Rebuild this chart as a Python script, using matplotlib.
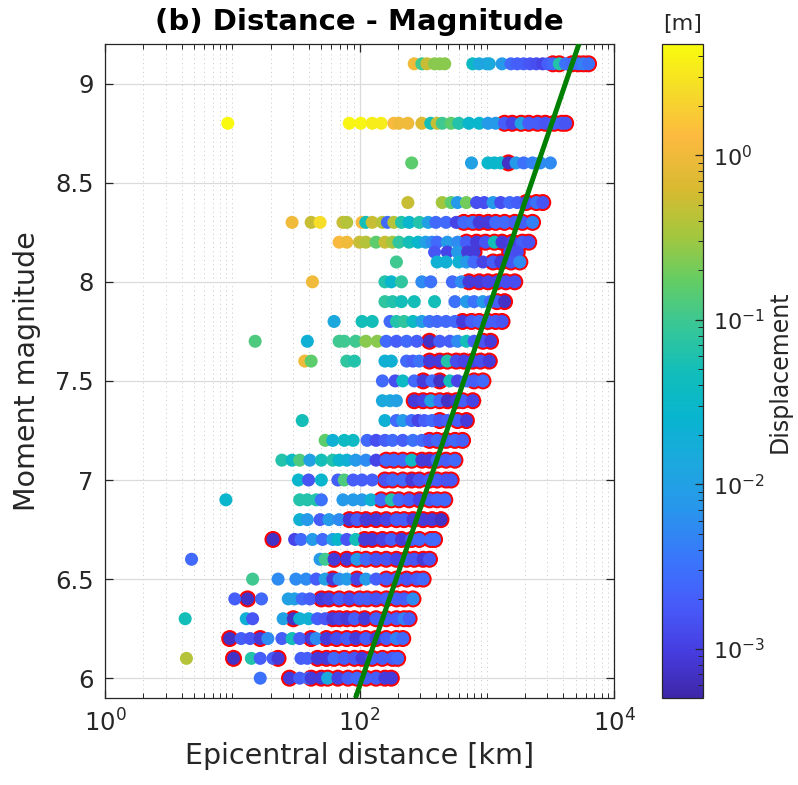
import numpy as np
import matplotlib
matplotlib.use('Agg')
import matplotlib.pyplot as plt
from matplotlib.colors import LinearSegmentedColormap, LogNorm
from matplotlib.ticker import FixedLocator, NullFormatter, LogFormatterMathtext

# magnitude rows (one scatter row per event magnitude)
mags = [9.1, 8.8, 8.6, 8.4, 8.3, 8.2, 8.15, 8.1, 8.0, 7.9, 7.8, 7.7, 7.6, 7.5, 7.4,
        7.3, 7.2, 7.1, 7.0, 6.9, 6.8, 6.7, 6.6, 6.5, 6.4, 6.3, 6.2, 6.1, 6.0]

# epicentral distance of each station, log10(km)
log_dist = [
    [2.43, 2.49, 2.53, 2.59, 2.63, 2.67, 2.89, 2.94, 3.00, 3.02, 3.12, 3.19, 3.24, 3.29, 3.34, 3.39, 3.44, 3.48, 3.52, 3.57, 3.62, 3.67, 3.72, 3.76, 3.80],
    [0.965, 1.92, 2.01, 2.10, 2.17, 2.27, 2.31, 2.38, 2.49, 2.56, 2.61, 2.65, 2.72, 2.78, 2.86, 2.94, 3.01, 3.07, 3.14, 3.20, 3.27, 3.33, 3.40, 3.46, 3.53, 3.59, 3.62],
    [2.41, 2.88, 3.01, 3.06, 3.11, 3.17, 3.23, 3.29, 3.36, 3.42, 3.50],
    [2.38, 2.65, 2.72, 2.77, 2.84, 2.92, 2.98, 3.05, 3.11, 3.18, 3.24, 3.31, 3.39, 3.44],
    [1.47, 1.62, 1.69, 1.87, 1.90, 2.02, 2.05, 2.10, 2.18, 2.22, 2.27, 2.33, 2.39, 2.47, 2.54, 2.60, 2.68, 2.76, 2.82, 2.89, 2.94, 3.01, 3.07, 3.14, 3.22, 3.28, 3.36],
    [1.84, 1.90, 2.00, 2.05, 2.13, 2.20, 2.26, 2.31, 2.39, 2.46, 2.52, 2.57, 2.61, 2.69, 2.77, 2.84, 2.92, 2.99, 3.06, 3.12, 3.20, 3.28, 3.33],
    [2.59, 2.69, 2.77, 2.85, 2.90, 3.18, 3.24],
    [2.29, 2.61, 2.68, 2.78, 2.84, 2.90, 2.97, 3.05, 3.11, 3.19, 3.26],
    [1.63, 2.20, 2.25, 2.33, 2.49, 2.56, 2.73, 2.80, 2.86, 2.94, 3.01, 3.08, 3.15, 3.22],
    [2.20, 2.26, 2.33, 2.43, 2.59, 2.75, 2.84, 2.90, 2.97, 3.03, 3.08, 3.14],
    [1.80, 2.02, 2.10, 2.24, 2.29, 2.35, 2.42, 2.49, 2.55, 2.61, 2.68, 2.75, 2.81, 2.88, 2.94, 3.01, 3.07, 3.12],
    [1.18, 1.59, 1.84, 1.88, 1.97, 2.05, 2.14, 2.21, 2.29, 2.37, 2.45, 2.55, 2.63, 2.71, 2.77, 2.84, 2.90, 2.97, 3.03],
    [1.57, 1.62, 1.90, 1.96, 2.20, 2.25, 2.37, 2.42, 2.47, 2.55, 2.63, 2.69, 2.76, 2.82, 2.89, 2.95, 3.02],
    [2.18, 2.28, 2.34, 2.43, 2.50, 2.57, 2.63, 2.71, 2.77, 2.84, 2.90, 2.97],
    [2.18, 2.24, 2.29, 2.43, 2.50, 2.56, 2.63, 2.69, 2.76, 2.81, 2.89],
    [1.55, 2.20, 2.29, 2.34, 2.41, 2.46, 2.51, 2.57, 2.63, 2.69, 2.77, 2.84],
    [1.73, 1.79, 1.88, 1.95, 2.06, 2.13, 2.20, 2.26, 2.34, 2.42, 2.49, 2.55, 2.61, 2.68, 2.75, 2.81],
    [1.39, 1.47, 1.53, 1.61, 1.70, 1.79, 1.84, 1.90, 1.97, 2.05, 2.13, 2.21, 2.27, 2.34, 2.41, 2.49, 2.55, 2.61, 2.68, 2.75],
    [1.52, 1.60, 1.70, 1.83, 1.88, 1.95, 2.02, 2.10, 2.20, 2.26, 2.34, 2.41, 2.47, 2.55, 2.61, 2.68, 2.72],
    [0.95, 1.53, 1.59, 1.66, 1.70, 1.87, 1.95, 2.02, 2.09, 2.17, 2.25, 2.31, 2.39, 2.47, 2.55, 2.61, 2.67],
    [1.53, 1.59, 1.69, 1.76, 1.84, 1.92, 1.98, 2.05, 2.13, 2.21, 2.29, 2.35, 2.42, 2.50, 2.57, 2.64],
    [1.32, 1.49, 1.54, 1.63, 1.71, 1.79, 1.83, 1.90, 1.97, 2.04, 2.10, 2.18, 2.25, 2.33, 2.41, 2.47, 2.56, 2.59],
    [0.68, 1.69, 1.73, 1.80, 1.90, 1.98, 2.05, 2.13, 2.21, 2.29, 2.37, 2.43, 2.50, 2.55],
    [1.16, 1.36, 1.50, 1.58, 1.66, 1.73, 1.79, 1.84, 1.90, 1.98, 2.05, 2.13, 2.21, 2.29, 2.37, 2.45, 2.50],
    [1.02, 1.12, 1.23, 1.44, 1.49, 1.55, 1.61, 1.70, 1.76, 1.84, 1.92, 2.00, 2.06, 2.13, 2.21, 2.29, 2.35, 2.42],
    [0.63, 1.11, 1.16, 1.40, 1.48, 1.53, 1.60, 1.67, 1.73, 1.79, 1.84, 1.90, 1.96, 2.04, 2.13, 2.21, 2.29, 2.35, 2.39],
    [0.98, 1.07, 1.14, 1.22, 1.28, 1.39, 1.47, 1.53, 1.62, 1.66, 1.74, 1.82, 1.90, 1.97, 2.05, 2.13, 2.21, 2.29, 2.34],
    [0.64, 1.01, 1.15, 1.22, 1.32, 1.36, 1.54, 1.59, 1.67, 1.74, 1.80, 1.88, 1.96, 2.02, 2.10, 2.18, 2.26, 2.30],
    [1.22, 1.45, 1.53, 1.60, 1.62, 1.70, 1.75, 1.83, 1.91, 1.98, 2.05, 2.13, 2.20, 2.25],
]

# peak displacement at each station, log10(m)
log_disp = [
    [0.0, -1.0, -0.3, -0.6, -0.6, -0.6, -1.45, -1.85, -2.0, -1.85, -2.1, -2.6, -2.7, -2.7, -2.8, -2.85, -2.95, -2.7, -2.6, -1.2, -2.5, -2.6, -2.5, -2.35, -2.5],
    [0.65, 0.6, 0.6, 0.55, 0.55, 0.1, 0.0, 0.0, -0.15, -1.3, -0.3, -1.0, -0.8, -1.2, -1.55, -1.55, -2.1, -2.1, -2.7, -2.95, -2.0, -2.7, -2.7, -2.8, -2.7, -2.7, -2.8],
    [-0.8, -2.0, -1.55, -1.55, -1.55, -3.15, -2.1, -2.5, -2.35, -2.25, -2.25],
    [-0.3, -0.5, -0.8, -2.1, -0.7, -2.85, -2.85, -2.1, -2.85, -2.6, -2.7, -2.85, -2.5, -2.8],
    [0.0, -0.3, 0.4, -0.3, -0.4, 0.1, -1.3, -0.3, -0.4, -2.6, -0.4, -1.2, -1.55, -1.2, -2.0, -2.6, -2.6, -2.95, -2.6, -2.5, -3.05, -3.05, -2.6, -2.6, -2.7, -2.7, -2.35],
    [0.1, 0.0, -0.3, -0.4, -0.8, -0.3, -0.5, -1.1, -1.3, -1.55, -2.0, -2.25, -2.6, -2.1, -2.25, -2.7, -3.05, -2.8, -1.3, -3.05, -2.95, -2.7, -2.8],
    [-2.8, -2.95, -2.1, -3.05, -3.05, -2.85, -2.85],
    [-1.0, -1.7, -1.7, -1.7, -2.1, -2.6, -2.95, -2.7, -3.05, -2.8, -2.25],
    [0.0, -1.2, -1.55, -1.1, -2.25, -2.5, -2.6, -2.25, -3.05, -3.05, -2.95, -2.95, -2.85, -2.85],
    [-1.1, -1.2, -1.3, -1.3, -1.3, -2.5, -2.1, -2.5, -2.1, -2.6, -2.7, -3.15],
    [-1.85, -1.3, -1.3, -2.6, -1.2, -1.1, -1.45, -2.0, -2.5, -2.6, -2.6, -2.6, -3.05, -2.7, -2.6, -2.7, -2.7, -2.8],
    [-0.9, -1.7, -1.0, -1.0, -1.0, -0.6, -0.6, -2.6, -2.7, -2.6, -2.7, -3.15, -2.7, -2.7, -2.25, -1.3, -2.7, -2.8, -3.05],
    [0.0, -0.8, -1.1, -1.2, -1.7, -1.7, -2.6, -2.7, -2.5, -3.05, -3.05, -1.2, -2.85, -2.95, -2.95, -2.85, -3.05],
    [-2.6, -2.85, -1.45, -2.6, -3.05, -2.6, -3.15, -1.3, -2.95, -2.6, -2.7, -2.6],
    [-1.85, -1.85, -2.0, -3.05, -2.95, -2.0, -2.6, -3.15, -3.05, -2.7, -2.95],
    [-1.3, -1.7, -2.6, -2.1, -2.6, -2.95, -2.7, -2.6, -2.8, -2.7, -2.7, -3.05],
    [-0.8, -1.7, -1.45, -1.45, -2.6, -2.85, -2.7, -2.6, -2.7, -2.5, -2.6, -2.8, -2.6, -2.7, -2.6, -2.7],
    [-1.2, -1.45, -0.9, -2.0, -1.3, -1.2, -1.55, -1.7, -2.1, -2.25, -2.95, -2.6, -2.6, -2.6, -1.45, -3.05, -3.05, -2.6, -2.7, -2.6],
    [-1.55, -2.8, -1.55, -2.7, -0.9, -2.7, -2.7, -2.7, -2.8, -2.6, -2.6, -3.05, -2.8, -2.7, -2.7, -2.8, -2.8],
    [-1.55, -1.2, -1.2, -1.2, -2.5, -2.1, -2.1, -2.1, -1.7, -2.6, -1.2, -2.6, -2.7, -2.95, -2.7, -2.6, -2.6],
    [-1.7, -2.1, -2.7, -2.1, -2.25, -3.05, -2.7, -3.05, -3.05, -2.95, -2.7, -2.7, -3.05, -3.05, -3.05, -3.15],
    [-3.15, -2.95, -2.6, -2.1, -2.6, -2.0, -1.55, -2.8, -1.3, -3.05, -3.05, -2.95, -2.7, -3.05, -2.7, -2.6, -2.6, -2.6],
    [-2.6, -2.1, -1.0, -3.05, -3.05, -2.1, -2.6, -2.8, -2.8, -2.95, -2.7, -2.8, -3.05, -2.8],
    [-1.0, -2.25, -2.25, -2.25, -2.7, -2.0, -3.05, -2.25, -2.1, -2.95, -2.1, -2.7, -2.7, -2.7, -2.8, -2.7, -2.6],
    [-2.7, -3.15, -2.6, -2.0, -2.0, -2.6, -2.7, -3.05, -2.95, -2.7, -2.85, -2.7, -2.7, -2.8, -2.7, -2.7, -2.7, -2.25],
    [-1.3, -1.7, -2.8, -2.0, -3.15, -1.7, -1.7, -2.7, -2.8, -3.05, -2.95, -3.05, -2.7, -3.05, -2.7, -2.7, -2.7, -2.35, -2.7],
    [-3.15, -2.7, -2.8, -3.05, -2.25, -2.7, -1.3, -2.7, -3.05, -2.25, -3.05, -2.85, -2.7, -3.05, -2.7, -3.05, -2.7, -2.35, -2.6],
    [-0.4, -3.15, -1.2, -2.7, -2.7, -3.05, -2.7, -2.7, -3.05, -3.05, -2.6, -2.7, -2.8, -3.05, -2.7, -2.7, -2.7, -2.6],
    [-2.5, -3.05, -2.7, -2.6, -3.05, -3.05, -1.85, -2.95, -2.7, -2.6, -2.7, -2.7, -3.05, -3.05],
]

# stations flagged with a red ring, log10(km)
red_dist = [
    [3.52, 3.57, 3.67, 3.72, 3.76, 3.80],
    [3.14, 3.20, 3.27, 3.33, 3.40, 3.46, 3.53, 3.59, 3.62],
    [3.17],
    [3.31, 3.39, 3.44],
    [2.82, 2.89, 2.94, 3.01, 3.07, 3.14, 3.22, 3.28, 3.36],
    [2.84, 2.92, 2.99, 3.06, 3.12, 3.20, 3.28, 3.33],
    [2.85, 2.90, 3.18, 3.24],
    [3.05, 3.11, 3.19, 3.26],
    [2.86, 2.94, 3.01, 3.08, 3.15, 3.22],
    [3.08, 3.14],
    [2.81, 2.88, 2.94, 3.01, 3.07, 3.12],
    [2.55, 2.97, 3.03],
    [2.55, 2.63, 2.69, 2.76, 2.82, 2.89, 2.95, 3.02],
    [2.50, 2.63, 2.90, 2.97],
    [2.43, 2.50, 2.56, 2.63, 2.69, 2.76, 2.81, 2.89],
    [2.63, 2.77, 2.84],
    [2.55, 2.61, 2.68, 2.75, 2.81],
    [2.21, 2.27, 2.34, 2.41, 2.49, 2.55, 2.61, 2.68, 2.75],
    [2.20, 2.26, 2.34, 2.41, 2.47, 2.55, 2.61, 2.68, 2.72],
    [2.17, 2.25, 2.31, 2.39, 2.47, 2.55, 2.61, 2.67],
    [1.92, 1.98, 2.05, 2.13, 2.21, 2.29, 2.35, 2.42, 2.50, 2.57, 2.64],
    [1.32, 2.04, 2.10, 2.18, 2.25, 2.33, 2.41, 2.47, 2.56, 2.59],
    [1.80, 1.90, 1.98, 2.05, 2.13, 2.21, 2.29, 2.37, 2.43, 2.50, 2.55],
    [1.79, 1.98, 2.21, 2.29, 2.37, 2.45, 2.50],
    [1.12, 1.70, 1.76, 1.84, 1.92, 2.00, 2.06, 2.13, 2.21, 2.29, 2.35, 2.42],
    [1.48, 1.79, 1.84, 1.90, 1.96, 2.04, 2.13, 2.21, 2.29, 2.35, 2.39],
    [0.98, 1.22, 1.62, 1.74, 1.82, 1.90, 1.97, 2.05, 2.13, 2.21, 2.29, 2.34],
    [1.01, 1.36, 1.67, 1.74, 1.80, 1.88, 1.96, 2.02, 2.10, 2.18, 2.26, 2.30],
    [1.45, 1.62, 1.70, 1.75, 1.83, 1.91, 1.98, 2.05, 2.13, 2.20, 2.25],
]

# fitted distance-magnitude line
line_mag = [5.9, 9.2]
line_dist = [93, 5300]

# approximate MATLAB parula
parula = LinearSegmentedColormap.from_list('parula', [
    (0.00, (0.2422, 0.1504, 0.6603)),
    (0.07, (0.2760, 0.2400, 0.8800)),
    (0.14, (0.2780, 0.3556, 0.9777)),
    (0.21, (0.2300, 0.4600, 0.9900)),
    (0.29, (0.1540, 0.5902, 0.9218)),
    (0.36, (0.1100, 0.6600, 0.8700)),
    (0.43, (0.0300, 0.7100, 0.8100)),
    (0.50, (0.0704, 0.7457, 0.7258)),
    (0.57, (0.2200, 0.7800, 0.5900)),
    (0.64, (0.3946, 0.8022, 0.3889)),
    (0.71, (0.6500, 0.7800, 0.2400)),
    (0.78, (0.8500, 0.7300, 0.1900)),
    (0.86, (0.9900, 0.7300, 0.2500)),
    (0.93, (0.9600, 0.8600, 0.1600)),
    (1.00, (0.9763, 0.9831, 0.0538)),
])
norm = LogNorm(vmin=10**-3.3, vmax=10**0.677)

txt = (0.15, 0.15, 0.15)
plt.rcParams['font.family'] = 'DejaVu Sans'

fig = plt.figure(figsize=(7.98, 7.85), dpi=100)
ax = fig.add_axes([105/798, 87/785, 509/798, 654/785])

for m, rd in zip(mags, red_dist):
    ax.scatter(10**np.array(rd), [m]*len(rd), s=150, c='red', edgecolors='none', zorder=2)

for m, d, c in zip(mags, log_dist, log_disp):
    ax.scatter(10**np.array(d), [m]*len(d), c=10**np.array(c), cmap=parula, norm=norm,
               s=88, edgecolors='none', zorder=3)

ax.plot(line_dist, line_mag, color=(0, 0.5, 0), lw=3.6, zorder=4, solid_capstyle='butt')

ax.set_xscale('log')
ax.set_xlim(1, 1e4)
ax.set_ylim(5.9, 9.2)
ax.xaxis.set_major_locator(FixedLocator([1, 100, 10000]))
ax.xaxis.set_major_formatter(LogFormatterMathtext())
minor = [k * 10**e for e in range(4) for k in range(1, 10) if not (k == 1 and e % 2 == 0)]
ax.xaxis.set_minor_locator(FixedLocator(minor))
ax.xaxis.set_minor_formatter(NullFormatter())
ax.set_yticks([6, 6.5, 7, 7.5, 8, 8.5, 9])
ax.set_yticklabels(['6', '6.5', '7', '7.5', '8', '8.5', '9'])

ax.grid(True, which='major', color='0.86', lw=0.9, zorder=0)
ax.grid(True, which='minor', axis='x', color='0.78', lw=0.7, linestyle=(0, (1, 3.5)), zorder=0)
ax.set_axisbelow(True)
ax.tick_params(which='both', direction='in', top=True, right=True, colors=txt,
               labelsize=17.5, pad=8)
ax.tick_params(which='major', length=6, width=0.9)
ax.tick_params(which='minor', length=3.5, width=0.7)
for s in ax.spines.values():
    s.set_color(txt)
    s.set_linewidth(0.9)

ax.set_xlabel('Epicentral distance [km]', fontsize=20.5, color=txt, labelpad=4)
ax.set_ylabel('Moment magnitude', fontsize=20.5, color=txt, labelpad=10)
ax.set_title('(b) Distance - Magnitude', fontsize=21, fontweight='bold', pad=10)

cax = fig.add_axes([662/798, 87/785, 41/798, 654/785])
sm = plt.cm.ScalarMappable(norm=norm, cmap=parula)
cb = fig.colorbar(sm, cax=cax)
cb.outline.set_edgecolor(txt)
cb.outline.set_linewidth(0.9)
cb.set_ticks([1e-3, 1e-2, 1e-1, 1e0])
cb.ax.yaxis.set_major_formatter(LogFormatterMathtext())
cax.tick_params(which='both', direction='in', colors=txt, labelsize=16, pad=7)
cax.tick_params(which='major', length=6, width=0.9)
cax.tick_params(which='minor', length=3.5, width=0.7)
cax.set_title('[m]', fontsize=16, color=txt, pad=10)
fig.text(780/798, 1 - 372/785, 'Displacement', rotation=90, ha='center', va='center',
         fontsize=17, color=txt)

fig.savefig('out.png', dpi=100)
